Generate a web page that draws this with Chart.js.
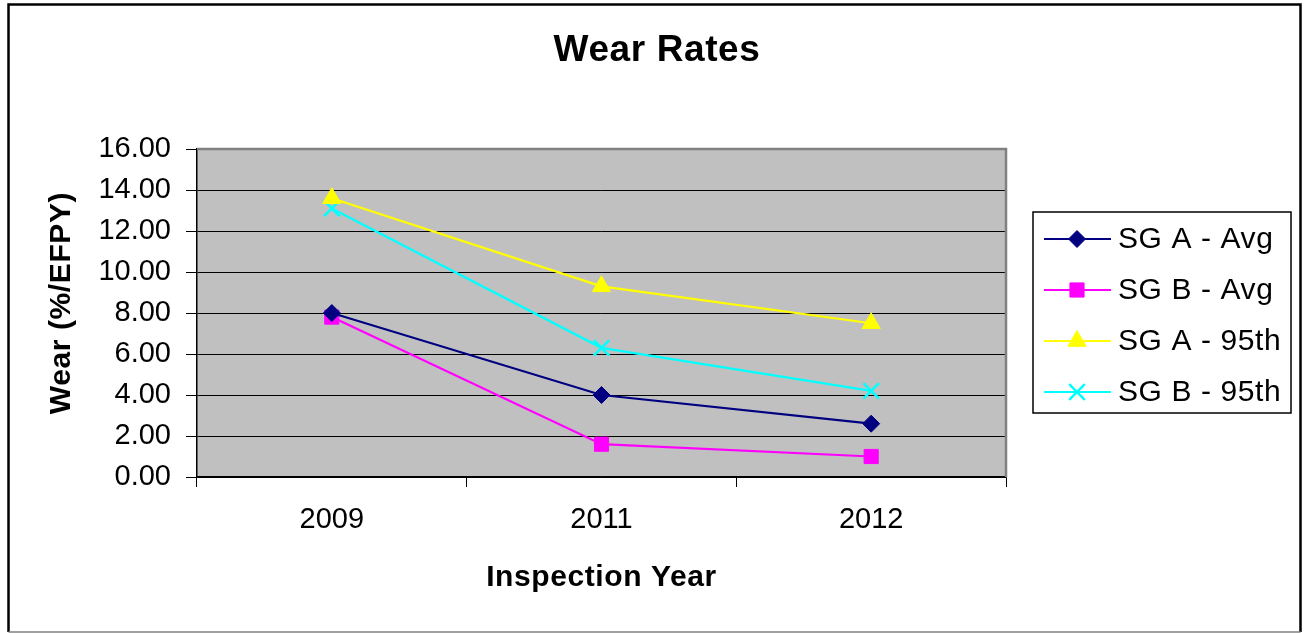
<!DOCTYPE html>
<html>
<head>
<meta charset="utf-8">
<title>Wear Rates</title>
<script src="https://cdn.jsdelivr.net/npm/chart.js@4.4.1/dist/chart.umd.min.js"></script>
<style>
  html, body { margin: 0; padding: 0; background: #fff; }
  canvas { display: block; }
</style>
</head>
<body>
<canvas id="wearChart" width="1306" height="633"></canvas>
<script>
const years = ["2009", "2011", "2012"];
const sgAAvg = [8.0, 4.0, 2.6];
const sgBAvg = [7.8, 1.6, 1.0];
const sgA95 = [13.6, 9.3, 7.5];
const sgB95 = [13.1, 6.3, 4.2];
const seriesNames = ["SG A - Avg", "SG B - Avg", "SG A - 95th", "SG B - 95th"];
const yMin = 0;
const yMax = 16;
const yStep = 2;

const FONT = "'Liberation Sans', Arial, sans-serif";

function makeSeries(label, data, color, style, radius, borderWidth) {
  return {
    label: label,
    data: data,
    borderColor: color,
    backgroundColor: color,
    borderWidth: 2.2,
    pointStyle: style,
    pointRadius: radius,
    pointHoverRadius: radius,
    pointBackgroundColor: color,
    pointBorderColor: color,
    pointBorderWidth: borderWidth,
    tension: 0,
    fill: false,
  };
}

// plot background, outer frame, titles and the boxed legend
const decorations = {
  id: "decorations",
  beforeDraw(chart) {
    const { ctx, chartArea: a } = chart;
    ctx.save();
    ctx.fillStyle = "#c0c0c0";
    ctx.fillRect(a.left, a.top, a.right - a.left, a.bottom - a.top);
    ctx.restore();
  },
  afterDraw(chart) {
    const { ctx, chartArea: a } = chart;
    ctx.save();

    // grey top/right edge of the plot area
    ctx.strokeStyle = "#808080";
    ctx.lineWidth = 2.5;
    ctx.beginPath();
    ctx.moveTo(a.left, a.top);
    ctx.lineTo(a.right, a.top);
    ctx.lineTo(a.right, a.bottom);
    ctx.stroke();

    // outer frame
    ctx.strokeStyle = "#000";
    ctx.lineWidth = 2.5;
    ctx.beginPath();
    ctx.moveTo(8.5, 632);
    ctx.lineTo(8.5, 4.5);
    ctx.lineTo(1300.5, 4.5);
    ctx.lineTo(1300.5, 632);
    ctx.stroke();
    ctx.strokeStyle = "#808080";
    ctx.lineWidth = 1.5;
    ctx.beginPath();
    ctx.moveTo(8.5, 632);
    ctx.lineTo(1300.5, 632);
    ctx.stroke();

    // titles
    ctx.fillStyle = "#000";
    ctx.textAlign = "center";
    ctx.textBaseline = "middle";
    ctx.letterSpacing = "0.6px";
    ctx.font = "bold 37px " + FONT;
    ctx.fillText("Wear Rates", 657, 51);
    ctx.letterSpacing = "0.6px";
    ctx.font = "bold 30px " + FONT;
    ctx.fillText("Inspection Year", (a.left + a.right) / 2, 578);
    ctx.save();
    ctx.translate(62, 303);
    ctx.rotate(-Math.PI / 2);
    ctx.letterSpacing = "0.6px";
    ctx.font = "bold 30px " + FONT;
    ctx.fillText("Wear (%/EFPY)", 0, 0);
    ctx.restore();

    // legend
    ctx.letterSpacing = "0.6px";
    ctx.strokeStyle = "#000";
    ctx.lineWidth = 1.5;
    ctx.strokeRect(1033, 212, 258, 201);
    ctx.font = "30px " + FONT;
    ctx.textAlign = "left";
    chart.data.datasets.forEach((ds, i) => {
      const y = 239 + i * 51;
      ctx.strokeStyle = ds.borderColor;
      ctx.lineWidth = ds.borderWidth;
      ctx.beginPath();
      ctx.moveTo(1044, y);
      ctx.lineTo(1111, y);
      ctx.stroke();
      ctx.fillStyle = ds.pointBackgroundColor;
      ctx.strokeStyle = ds.pointBorderColor;
      ctx.lineWidth = ds.pointBorderWidth;
      Chart.helpers.drawPoint(ctx, {
        pointStyle: ds.pointStyle,
        radius: ds.pointRadius,
        rotation: 0,
        borderWidth: ds.pointBorderWidth,
      }, 1077, y);
      ctx.fillStyle = "#000";
      ctx.fillText(ds.label, 1118, y + 1);
    });
    ctx.restore();
  },
};

const ctx = document.getElementById("wearChart").getContext("2d");
const chart = new Chart(ctx, {
  type: "line",
  data: {
    labels: years,
    datasets: [
      makeSeries(seriesNames[0], sgAAvg, "#000080", "rectRot", 8.5, 1),
      makeSeries(seriesNames[1], sgBAvg, "#ff00ff", "rect", 10, 1),
      makeSeries(seriesNames[2], sgA95, "#ffff00", "triangle", 10.5, 1),
      makeSeries(seriesNames[3], sgB95, "#00ffff", "crossRot", 11, 2.5),
    ],
  },
  options: {
    responsive: false,
    devicePixelRatio: 1,
    animation: false,
    layout: {
      padding: { top: 149, right: 300, bottom: 0, left: 0 },
    },
    plugins: {
      legend: { display: false },
      title: { display: false },
      tooltip: { enabled: false },
    },
    scales: {
      x: {
        offset: true,
        grid: {
          offset: true,
          drawOnChartArea: false,
          tickLength: 10,
          color: "#000",
        },
        border: { display: true, color: "#000", width: 1.5 },
        ticks: {
          color: "#000",
          padding: 16,
          font: { size: 29, family: FONT },
        },
        afterFit(scale) {
          scale.height = 156;
        },
      },
      y: {
        min: yMin,
        max: yMax,
        grid: { color: "#000", lineWidth: 1, tickLength: 11 },
        border: { display: true, color: "#000", width: 1.5 },
        ticks: {
          stepSize: yStep,
          color: "#000",
          padding: 15,
          font: { size: 29, family: FONT },
          callback: (v) => v.toFixed(2),
        },
        afterFit(scale) {
          scale.width = 197;
        },
      },
    },
  },
  plugins: [decorations],
});
</script>
</body>
</html>
